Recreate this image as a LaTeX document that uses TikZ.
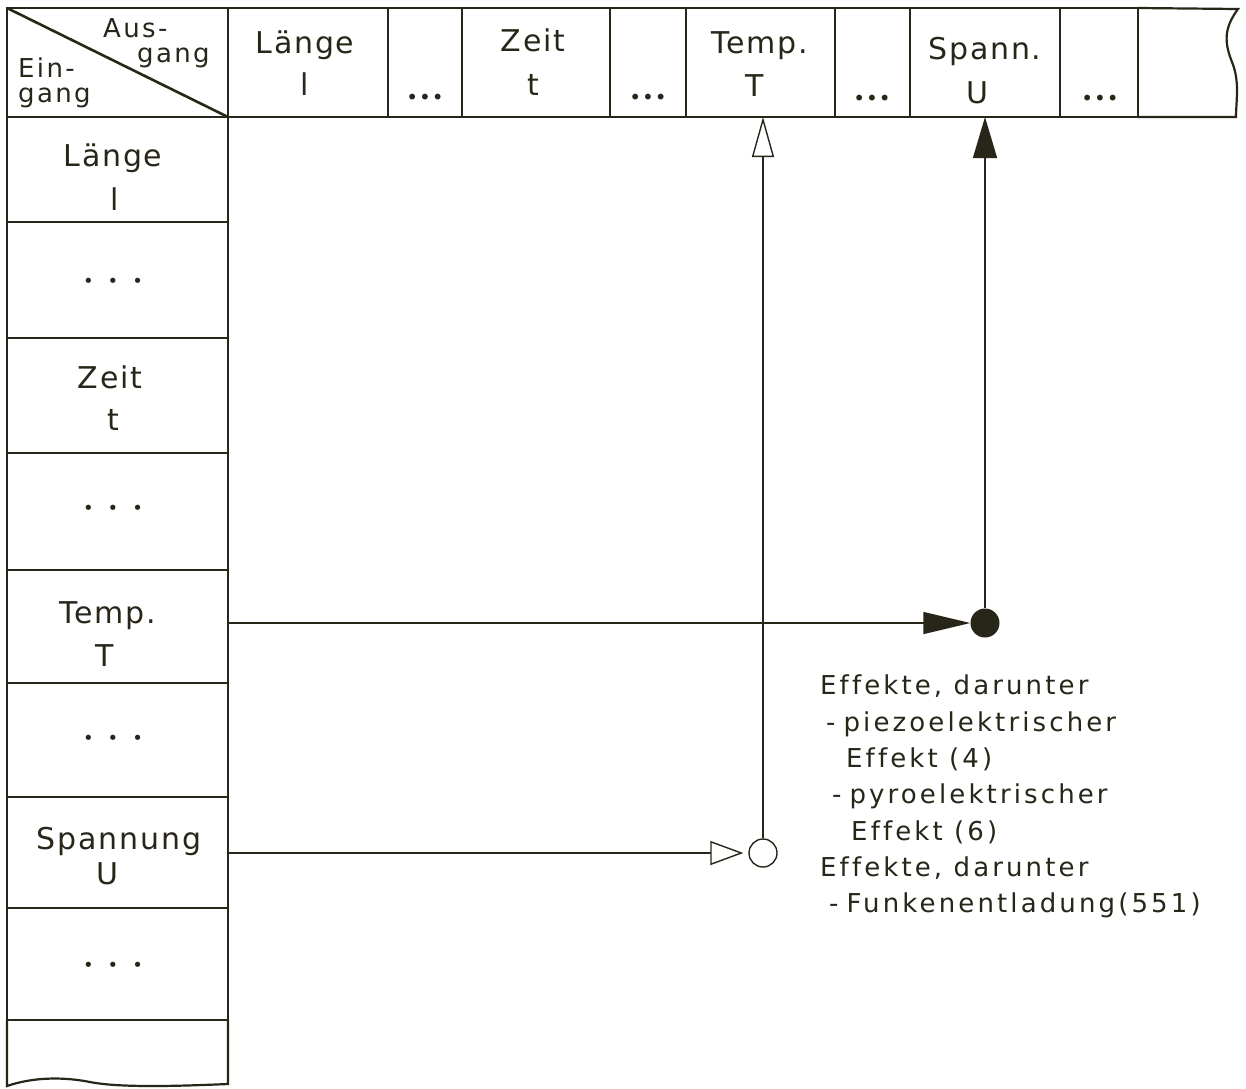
\documentclass[tikz,border=0pt]{standalone}
\usepackage{fontspec}
\setmainfont{DejaVu Sans}[LetterSpace=6,Ligatures=NoCommon]
\newfontfamily\fxfont{DejaVu Sans}[LetterSpace=12,Ligatures=NoCommon]
\newfontfamily\cornerfont{DejaVu Sans}[LetterSpace=9]
\newfontfamily\dotfont{DejaVu Sans}
\usetikzlibrary{arrows.meta}
\definecolor{ink}{RGB}{40,38,25}
\begin{document}
\begin{tikzpicture}[x=1pt,y=-1pt,
  cell/.style={draw=ink, line width=2.2pt, inner sep=0pt, outer sep=0pt, rectangle},
  lbl/.style={text=ink, font=\fontsize{30}{34}\selectfont, inner sep=0pt, anchor=base},
  corner/.style={text=ink, font=\cornerfont\fontsize{26}{26}\selectfont, inner sep=0pt, anchor=base west},
  hdots/.style={text=ink, inner sep=0pt, font=\dotfont\fontsize{20}{20}\selectfont},
  vdots/.style={text=ink, inner sep=0pt, font=\dotfont\fontsize{18}{18}\selectfont},
  conn/.style={draw=ink, line width=1.4pt}]
\useasboundingbox (0,0) rectangle (1246,1088);
\fill[white] (0,0) rectangle (1246,1088);

% header cells
\node[cell, minimum width=221pt, minimum height=109pt] (h0) at (117.5,62.5) {};
\node[cell, minimum width=160pt, minimum height=109pt] (hL) at (308,62.5) {};
\node[cell, minimum width=74pt,  minimum height=109pt] (hd1) at (425,62.5) {};
\node[cell, minimum width=148pt, minimum height=109pt] (hZ) at (536,62.5) {};
\node[cell, minimum width=76pt,  minimum height=109pt] (hd2) at (648,62.5) {};
\node[cell, minimum width=149pt, minimum height=109pt] (hT) at (760.5,62.5) {};
\node[cell, minimum width=75pt,  minimum height=109pt] (hd3) at (872.5,62.5) {};
\node[cell, minimum width=150pt, minimum height=109pt] (hS) at (985,62.5) {};
\node[cell, minimum width=78pt,  minimum height=109pt] (hd4) at (1099,62.5) {};
\draw[ink, line width=2.2pt] (hd4.north east) -- (1238,9)
  .. controls (1224,28) and (1224,42) .. (1232,62)
  .. controls (1240,82) and (1236,100) .. (1236,117) -- (hd4.south east);

% left column cells
\node[cell, minimum width=221pt, minimum height=105pt] (rL) at (117.5,169.5) {};
\node[cell, minimum width=221pt, minimum height=116pt] (rd1) at (117.5,280) {};
\node[cell, minimum width=221pt, minimum height=115pt] (rZ) at (117.5,395.5) {};
\node[cell, minimum width=221pt, minimum height=117pt] (rd2) at (117.5,511.5) {};
\node[cell, minimum width=221pt, minimum height=113pt] (rT) at (117.5,626.5) {};
\node[cell, minimum width=221pt, minimum height=114pt] (rd3) at (117.5,740) {};
\node[cell, minimum width=221pt, minimum height=111pt] (rU) at (117.5,852.5) {};
\node[cell, minimum width=221pt, minimum height=112pt] (rd4) at (117.5,964) {};
\draw[ink, line width=2.2pt] (rd4.south west) -- (7,1086)
  .. controls (30,1078) and (60,1076) .. (90,1082)
  .. controls (120,1088) and (180,1086) .. (228,1084) -- (rd4.south east);

% corner
\draw[ink, line width=2.6pt] (h0.north west) -- (h0.south east);
\node[corner] (aus) at (103,37) {Aus-};
\node[corner] (ausg) at (137,62) {gang};
\node[corner] (ein) at (18,77) {Ein-};
\node[corner] (eing) at (18,102) {gang};

% header labels
\node[lbl] (tL1) at (305,53) {Länge};
\node[lbl] (tL2) at (305,95) {l};
\node[lbl] (tZ1) at (533,51) {Zeit};
\node[lbl] (tZ2) at (533,95) {t};
\node[lbl] (tT1) at (760,53) {Temp.};
\node[lbl] (tT2) at (755,96) {T};
\node[lbl] (tS1) at (985,59) {Spann.};
\node[lbl] (tS2) at (977,103) {U};
\node[hdots] (dh1) at (425,99) {•\kern1pt•\kern1pt•};
\node[hdots] (dh2) at (648,99) {•\kern1pt•\kern1pt•};
\node[hdots] (dh3) at (872,100) {•\kern1pt•\kern1pt•};
\node[hdots] (dh4) at (1100,100) {•\kern1pt•\kern1pt•};

% left labels
\node[lbl] (lL1) at (113,166) {Länge};
\node[lbl] (lL2) at (115,210) {l};
\node[vdots] (dv1) at (113,283) {•\kern14pt•\kern14pt•};
\node[lbl] (lZ1) at (110,388) {Zeit};
\node[lbl] (lZ2) at (113,430) {t};
\node[vdots] (dv2) at (113,510) {•\kern14pt•\kern14pt•};
\node[lbl] (lT1) at (108,623) {Temp.};
\node[lbl] (lT2) at (105,666) {T};
\node[vdots] (dv3) at (113,740) {•\kern14pt•\kern14pt•};
\node[lbl] (lU1) at (119,849) {Spannung};
\node[lbl] (lU2) at (107,884) {U};
\node[vdots] (dv4) at (113,967) {•\kern14pt•\kern14pt•};

% junction circles
\node[circle, draw=ink, line width=1.4pt, fill=white, minimum size=28pt, inner sep=0pt] (oc) at (763,853) {};
\node[circle, fill=ink, minimum size=29pt, inner sep=0pt] (fc) at (985,623) {};

% connectors
\draw[conn, -{Triangle[length=47pt,width=22pt]}] (rT.east |- fc) -- (fc.west);
\draw[conn, -{Triangle[length=41pt,width=24pt]}] (fc.north) -- (fc |- hS.south);
\draw[conn, -{Triangle[open,length=33pt,width=24pt]}] (rU.east |- oc) -- ([xshift=-5pt]oc.west);
\draw[conn, -{Triangle[open,length=40pt,width=22pt]}] (oc.north) -- (oc |- hT.south);

% effects text
\node[text=ink, inner sep=0pt, anchor=north west, align=left, font=\fxfont\fontsize{26}{36.3}\selectfont] (fx) at (820,675)
 {Effekte, darunter\\
  \hspace*{6pt}-\hspace*{8pt}piezoelektrischer\\
  \hspace*{26pt}Effekt (4)\\
  \hspace*{12pt}-\hspace*{8pt}pyroelektrischer\\
  \hspace*{31pt}Effekt (6)\\
  Effekte, darunter\\
  \hspace*{9pt}-\hspace*{8pt}Funkenentladung(551)};
\end{tikzpicture}
\end{document}
